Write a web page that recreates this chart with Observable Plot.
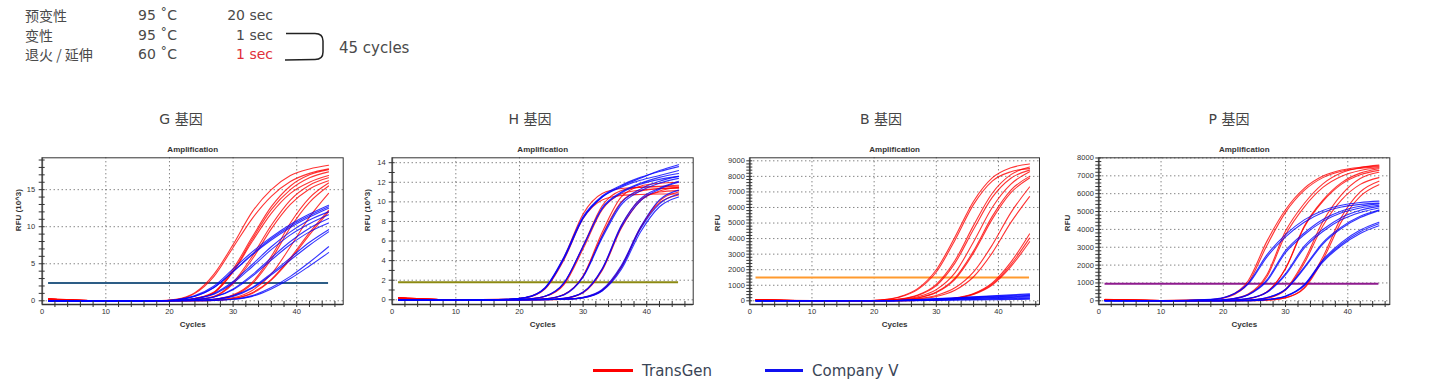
<!DOCTYPE html>
<html><head><meta charset="utf-8">
<script src="https://cdn.jsdelivr.net/npm/d3@7"></script>
<script src="https://cdn.jsdelivr.net/npm/@observablehq/plot@0.6"></script>
<style>
html,body{margin:0;padding:0;background:#fff;}
body{width:1429px;height:388px;position:relative;overflow:hidden;font-family:"DejaVu Sans","Noto Sans CJK SC",sans-serif;}
.t{position:absolute;white-space:nowrap;color:#4a4a4a;font-size:14px;line-height:16px;}
.cjk{font-family:"Noto Sans CJK SC",sans-serif;}
.r{text-align:right;}
.ptitle{position:absolute;top:109px;font-size:14px;line-height:18px;color:#444;transform:translateX(-50%);white-space:nowrap;font-family:"DejaVu Sans","Noto Sans CJK SC",sans-serif;}
.panel{position:absolute;top:135px;}
.lg{position:absolute;top:363px;font-size:15px;line-height:16px;color:#3a4556;white-space:nowrap;}
.sw{position:absolute;top:369px;height:3px;}
</style></head><body>

<div class="t cjk" style="left:25px;top:7px;">预变性</div>
<div class="t" style="left:138px;top:7px;">95 ˚C</div>
<div class="t r" style="left:200px;width:73px;top:7px;">20 sec</div>
<div class="t cjk" style="left:25px;top:27px;">变性</div>
<div class="t" style="left:138px;top:27px;">95 ˚C</div>
<div class="t r" style="left:200px;width:73px;top:27px;">1 sec</div>
<div class="t cjk" style="left:25px;top:46px;">退火 / 延伸</div>
<div class="t" style="left:138px;top:46px;">60 ˚C</div>
<div class="t r" style="left:200px;width:73px;top:46px;color:#e0303a;">1 sec</div>
<svg style="position:absolute;left:0;top:0" width="420" height="70">
  <path d="M286,33.5 L315,33.5 Q323,33.5 323,41 L323,52 Q323,59.5 315,59.5 L285,60" fill="none" stroke="#222" stroke-width="1.5"/>
</svg>
<div class="t" style="left:339px;top:40px;font-size:15px;">45 cycles</div>

<div class="ptitle" style="left:181px;">G <span class="cjk">基因</span></div>
<div class="ptitle" style="left:530px;">H <span class="cjk">基因</span></div>
<div class="ptitle" style="left:881px;">B <span class="cjk">基因</span></div>
<div class="ptitle" style="left:1229px;">P <span class="cjk">基因</span></div>

<div id="pG" class="panel" style="left:5px;"></div>
<div id="pH" class="panel" style="left:355px;"></div>
<div id="pB" class="panel" style="left:705px;"></div>
<div id="pP" class="panel" style="left:1055px;"></div>

<div class="sw" style="left:593px;width:40px;background:#ff0000;"></div>
<div class="lg" style="left:642px;">TransGen</div>
<div class="sw" style="left:765px;width:38px;background:#1010f0;"></div>
<div class="lg" style="left:812px;">Company V</div>

<script>
// ---------- shared axes ----------
const cycles = [1, 10, 18, 21, 24, 27, 30, 33, 36, 39, 42, 45];
const xTickLabels = [0, 10, 20, 30, 40];
const xGrid = [10, 20, 30, 40];
const xMinorTicks = [2,4,6,8,10,12,14,16,18,20,22,24,26,28,30,32,34,36,38,40,42,44,46];

// ---------- G gene (RFU x10^3) ----------
const gYTicks = [0, 5, 10, 15];
const gThreshold = 2.4;
const gRed = [
  [0.25, 0.02, 0.0, 0.2, 1.1, 3.6, 7.6, 12.0, 15.0, 16.9, 17.8, 18.3],
  [0.3, 0.0, 0.0, 0.15, 1.0, 3.3, 7.2, 11.1, 14.1, 16.1, 17.2, 17.8],
  [0.2, 0.0, 0.0, 0.05, 0.35, 1.2, 4.3, 8.6, 12.7, 15.5, 17.0, 17.7],
  [0.2, 0.0, 0.0, 0.05, 0.3, 1.1, 4.0, 8.3, 12.3, 15.0, 16.6, 17.4],
  [0.25, 0.0, 0.0, 0.05, 0.3, 1.1, 3.9, 8.0, 11.8, 14.5, 16.0, 16.9],
  [0.2, 0.0, 0.0, 0.0, 0.15, 0.6, 2.5, 6.0, 10.2, 13.6, 15.6, 16.6],
  [0.2, 0.0, 0.0, 0.0, 0.15, 0.55, 2.3, 5.6, 9.7, 13.0, 15.1, 16.2],
  [0.2, 0.0, 0.0, 0.0, 0.05, 0.2, 0.8, 2.5, 6.0, 10.5, 13.9, 15.9],
  [0.15, 0.0, 0.0, 0.0, 0.05, 0.2, 0.7, 2.3, 5.6, 9.9, 13.3, 15.5],
  [0.2, 0.0, 0.0, 0.0, 0.0, 0.1, 0.4, 1.4, 3.6, 7.3, 11.3, 14.5],
  [0.15, 0.0, 0.0, 0.0, 0.0, 0.05, 0.3, 1.1, 2.9, 5.8, 9.2, 12.2],
  [0.2, 0.0, 0.0, 0.0, 0.0, 0.05, 0.3, 1.0, 2.8, 5.6, 8.9, 12.0]
];
const gBlue = [
  [0.0, -0.05, 0.0, 0.15, 0.7, 2.0, 4.3, 6.6, 8.6, 10.3, 11.7, 12.9],
  [-0.05, -0.05, 0.0, 0.1, 0.6, 1.8, 4.0, 6.3, 8.4, 10.1, 11.5, 12.7],
  [0.0, -0.05, 0.0, 0.1, 0.6, 1.8, 3.9, 6.2, 8.2, 9.9, 11.3, 12.5],
  [0.0, -0.05, 0.0, 0.05, 0.3, 1.0, 2.6, 4.9, 7.3, 9.3, 10.9, 12.0],
  [-0.05, -0.05, 0.0, 0.05, 0.3, 0.9, 2.4, 4.6, 6.9, 8.9, 10.4, 11.6],
  [0.0, -0.05, 0.0, 0.0, 0.15, 0.5, 1.6, 3.5, 5.8, 8.0, 9.8, 11.1],
  [0.0, -0.05, 0.0, 0.0, 0.15, 0.5, 1.5, 3.3, 5.5, 7.6, 9.3, 10.5],
  [0.0, -0.05, 0.0, 0.0, 0.05, 0.2, 0.7, 1.8, 3.7, 5.8, 7.9, 9.6],
  [-0.05, -0.05, 0.0, 0.0, 0.05, 0.2, 0.6, 1.7, 3.5, 5.5, 7.5, 9.3],
  [0.0, -0.05, 0.0, 0.0, 0.0, 0.05, 0.2, 0.7, 1.8, 3.3, 5.2, 7.3],
  [0.0, -0.05, 0.0, 0.0, 0.0, 0.05, 0.2, 0.6, 1.6, 3.0, 4.7, 6.5]
];

// ---------- H gene (RFU x10^3) ----------
const hYTicks = [0, 2, 4, 6, 8, 10, 12, 14];
const hThreshold = 1.8;
const hRed = [
  [0.2, 0.0, 0.05, 0.24, 1.18, 4.34, 8.77, 10.86, 11.37, 11.48, 11.55, 11.6],
  [0.15, 0.0, 0.05, 0.22, 1.1, 4.1, 8.3, 10.2, 10.65, 10.75, 10.8, 10.8],
  [0.2, 0.0, 0.0, 0.07, 0.36, 1.68, 5.5, 9.6, 11.15, 11.5, 11.6, 11.7],
  [0.15, 0.0, 0.0, 0.06, 0.33, 1.55, 5.2, 9.2, 10.8, 11.2, 11.35, 11.4],
  [0.2, 0.0, 0.0, 0.02, 0.1, 0.54, 2.38, 6.6, 10.0, 11.1, 11.35, 11.45],
  [0.15, 0.0, 0.0, 0.02, 0.1, 0.55, 2.45, 6.9, 10.5, 11.6, 11.9, 12.0],
  [0.2, 0.0, 0.0, 0.0, 0.03, 0.15, 0.77, 3.14, 7.54, 10.26, 11.0, 11.15],
  [0.15, 0.0, 0.0, 0.0, 0.03, 0.14, 0.72, 3.0, 7.3, 10.1, 11.1, 11.5],
  [0.2, 0.0, 0.0, 0.0, 0.0, 0.06, 0.24, 1.0, 3.4, 7.35, 9.9, 10.7],
  [0.15, 0.0, 0.0, 0.0, 0.0, 0.05, 0.22, 0.95, 3.3, 7.3, 10.1, 11.0]
];
const hBlue = [
  [-0.05, -0.05, 0.05, 0.25, 1.25, 4.4, 8.5, 10.6, 11.7, 12.5, 13.1, 13.6],
  [-0.05, -0.05, 0.05, 0.24, 1.2, 4.3, 8.4, 10.5, 11.6, 12.4, 13.2, 13.8],
  [0.0, -0.05, 0.05, 0.22, 1.15, 4.2, 8.3, 10.5, 11.5, 12.2, 12.7, 13.2],
  [-0.05, -0.05, 0.0, 0.07, 0.37, 1.75, 5.5, 9.4, 11.0, 11.9, 12.5, 12.9],
  [0.0, -0.05, 0.0, 0.07, 0.36, 1.7, 5.4, 9.3, 10.9, 11.8, 12.3, 12.6],
  [-0.05, -0.05, 0.0, 0.02, 0.1, 0.55, 2.4, 6.5, 9.9, 11.3, 12.1, 12.6],
  [0.0, -0.05, 0.0, 0.02, 0.1, 0.5, 2.3, 6.3, 9.7, 11.1, 11.9, 12.4],
  [-0.05, -0.05, 0.0, 0.0, 0.03, 0.16, 0.8, 3.2, 7.6, 10.3, 11.4, 12.1],
  [0.0, -0.05, 0.0, 0.0, 0.03, 0.15, 0.75, 3.1, 7.4, 10.1, 11.3, 12.0],
  [-0.05, -0.05, 0.0, 0.0, 0.0, 0.05, 0.22, 0.95, 3.3, 7.2, 9.8, 10.8],
  [0.0, -0.05, 0.0, 0.0, 0.0, 0.05, 0.2, 0.9, 3.1, 6.9, 9.5, 10.5],
  [0.0, -0.05, 0.0, 0.0, 0.0, 0.05, 0.25, 1.05, 3.5, 7.4, 10.2, 11.2]
];

// ---------- B gene (RFU) ----------
const bYTicks = [0, 1000, 2000, 3000, 4000, 5000, 6000, 7000, 8000, 9000];
const bThreshold = 1500;
const bRed = [
  [80, 10, 0, 60, 250, 780, 2000, 4100, 6400, 7900, 8550, 8800],
  [60, 10, 0, 55, 230, 720, 1850, 3900, 6200, 7700, 8300, 8500],
  [70, 5, 0, 20, 110, 370, 1060, 2590, 4850, 6915, 8110, 8600],
  [60, 5, 0, 20, 100, 340, 980, 2420, 4600, 6650, 7880, 8400],
  [60, 5, 0, 25, 90, 260, 720, 1800, 3800, 6000, 7500, 8300],
  [60, 5, 0, 20, 70, 200, 565, 1460, 3210, 5430, 7120, 8000],
  [50, 5, 0, 20, 65, 185, 530, 1380, 3080, 5250, 6950, 7900],
  [60, 5, 0, 10, 40, 138, 347, 835, 1860, 3590, 5670, 7317],
  [50, 5, 0, 10, 35, 113, 281, 682, 1547, 3085, 5040, 6700],
  [60, 5, 0, 0, 10, 30, 67, 181, 473, 1157, 2490, 4300],
  [50, 5, 0, 0, 10, 25, 60, 165, 440, 1080, 2330, 4030],
  [50, 5, 0, 0, 10, 25, 55, 155, 415, 1020, 2200, 3800]
];
const bBlue = [
  [20, 10, 0, 0, 30, 80, 140, 200, 260, 320, 385, 450],
  [10, 5, 0, 0, 25, 70, 125, 180, 235, 290, 345, 400],
  [0, 0, 0, 0, 20, 60, 110, 155, 205, 255, 300, 350],
  [-20, 0, 0, 0, 20, 50, 95, 135, 175, 215, 260, 300],
  [10, 0, 0, 0, 15, 40, 75, 110, 145, 180, 215, 250],
  [-10, 0, 0, 0, 10, 30, 60, 90, 115, 145, 170, 200],
  [0, -10, 0, 0, 10, 25, 45, 65, 85, 105, 130, 150],
  [-30, -10, 0, 0, 5, 15, 30, 45, 60, 70, 85, 100]
];

// ---------- P gene (RFU) ----------
const pYTicks = [0, 1000, 2000, 3000, 4000, 5000, 6000, 7000, 8000];
const pThreshold = 950;
const pRed = [
  [60, 20, 65, 283, 1125, 3329, 5100, 6293, 6984, 7326, 7478, 7547],
  [80, 10, 50, 240, 990, 3100, 4950, 6180, 6900, 7260, 7420, 7500],
  [60, 20, 20, 88, 383, 1463, 3904, 5452, 6553, 7169, 7461, 7600],
  [50, 10, 15, 75, 340, 1350, 3700, 5250, 6350, 6980, 7300, 7450],
  [60, 10, 0, 26, 118, 502, 1824, 4180, 5639, 6620, 7152, 7400],
  [50, 10, 0, 26, 116, 495, 1800, 4125, 5565, 6533, 7058, 7305],
  [60, 10, 0, 0, 35, 156, 653, 2246, 4440, 5950, 6850, 7200],
  [50, 10, 0, 0, 30, 140, 600, 2100, 4200, 5650, 6520, 6900],
  [60, 10, 0, 0, 0, 41, 178, 738, 2457, 4700, 6100, 6700],
  [50, 10, 0, 0, 0, 38, 165, 690, 2300, 4450, 5850, 6500]
];
const pBlue = [
  [20, 0, 78, 292, 994, 2571, 3712, 4531, 5062, 5356, 5509, 5582],
  [0, 0, 70, 270, 930, 2450, 3580, 4400, 4950, 5250, 5400, 5470],
  [20, 0, 25, 95, 355, 1171, 2808, 3796, 4557, 5034, 5295, 5428],
  [0, 0, 22, 88, 330, 1100, 2700, 3700, 4450, 4930, 5200, 5350],
  [10, 0, 0, 35, 135, 492, 1529, 3058, 3993, 4670, 5071, 5291],
  [0, 0, 0, 32, 125, 460, 1450, 2950, 3880, 4550, 4950, 5200],
  [10, 0, 0, 0, 48, 183, 649, 1886, 3265, 4142, 4742, 5090],
  [0, 0, 0, 0, 45, 175, 620, 1820, 3180, 4060, 4660, 5050],
  [10, 0, 0, 0, 0, 69, 259, 874, 2237, 3182, 3869, 4310],
  [0, 0, 0, 0, 0, 72, 270, 910, 2300, 3270, 3960, 4400],
  [0, 0, 0, 0, 0, 65, 245, 840, 2170, 3100, 3770, 4200]
];

// ---------- build ----------
function rows(curves, tag) {
  const out = [];
  curves.forEach((arr, i) => arr.forEach((v, j) => out.push({c: cycles[j], v, id: tag + i})));
  return out;
}

function panel(el, cfg) {
  const y0 = cfg.yDomain[0];
  const chart = Plot.plot({
    width: cfg.width, height: 200,
    marginLeft: cfg.ml, marginRight: cfg.mr, marginTop: 22.3, marginBottom: 31,
    x: {domain: [0, cfg.xMax], axis: null},
    y: {domain: cfg.yDomain, axis: null},
    style: {fontFamily: "Liberation Sans, Arial, sans-serif", fontSize: "7.5px", background: "transparent", overflow: "visible"},
    marks: [
      Plot.gridX(xGrid, {stroke: "#333", strokeOpacity: 0.85, strokeDasharray: "1,3", strokeWidth: 1}),
      Plot.gridY(cfg.yTicks, {stroke: "#333", strokeOpacity: 0.85, strokeDasharray: "1,3", strokeWidth: 1}),
      Plot.ruleY([cfg.threshold], {x1: 1, x2: 45, stroke: cfg.thColor, strokeWidth: 2}),
      Plot.line(rows(cfg.red, "r"), {x: "c", y: "v", z: "id", stroke: "#ff0000", strokeOpacity: 0.8, strokeWidth: 1.1, curve: "monotone-x"}),
      Plot.line(rows(cfg.blue, "b"), {x: "c", y: "v", z: "id", stroke: "#0000ff", strokeOpacity: 0.8, strokeWidth: 1.1, curve: "monotone-x"}),
      Plot.ruleX([0], {stroke: "#999", strokeWidth: 2}),
      Plot.ruleY([y0], {stroke: "#999", strokeWidth: 2}),
      Plot.frame({stroke: "#333", strokeWidth: 1}),
      Plot.ruleX(xMinorTicks, {x: d => d, y1: y0, y2: y0, insetTop: -3, insetBottom: -3, stroke: "#333"}),
      Plot.ruleY(cfg.yMinor, {y: d => d, x1: 0, x2: 0, insetLeft: -3, insetRight: -3, stroke: "#333"}),
      Plot.text(xTickLabels, {x: d => d, frameAnchor: "bottom", dy: 9.5, text: d => String(d), fill: "#333"}),
      Plot.text(cfg.yTicks, {y: d => d, frameAnchor: "left", dx: cfg.tickDx, textAnchor: "end", text: d => String(d), fill: "#333"}),
      Plot.text(["Amplification"], {frameAnchor: "top", dy: -11, fontWeight: "bold", fontSize: 8, fill: "#333"}),
      Plot.text(["Cycles"], {frameAnchor: "bottom", dy: 22, fontWeight: "bold", fontSize: 8, fill: "#333"}),
      Plot.text([cfg.yLabel], {frameAnchor: "left", dx: cfg.labelDx, rotate: -90, fontWeight: "bold", fontSize: 8, fill: "#333"})
    ]
  });
  document.getElementById(el).appendChild(chart);
}

const range = (a, b, s) => d3.range(a, b + s / 2, s);

panel("pG", {width: 345, ml: 36.7, mr: 7.3, xMax: 47.3, yDomain: [-0.5, 19.3],
  yTicks: gYTicks, yMinor: range(0, 19, 1), threshold: gThreshold, thColor: "#2d5d86",
  red: gRed, blue: gBlue, yLabel: "RFU (10^3)", labelDx: -23.5, tickDx: -7});
panel("pH", {width: 345, ml: 36.7, mr: 7.3, xMax: 47.3, yDomain: [-0.48, 14.5],
  yTicks: hYTicks, yMinor: range(0, 14, 1), threshold: hThreshold, thColor: "#8c8a12",
  red: hRed, blue: hBlue, yLabel: "RFU (10^3)", labelDx: -24.4, tickDx: -6.5});
panel("pB", {width: 340, ml: 44.3, mr: 6, xMax: 46.6, yDomain: [-237, 9194],
  yTicks: bYTicks, yMinor: range(0, 9000, 200), threshold: bThreshold, thColor: "#ff9a2e",
  red: bRed, blue: bBlue, yLabel: "RFU", labelDx: -32, tickDx: -5});
panel("pP", {width: 340, ml: 43.3, mr: 5.7, xMax: 46.75, yDomain: [-207, 8010],
  yTicks: pYTicks, yMinor: range(0, 8000, 200), threshold: pThreshold, thColor: "#8e1a8e",
  red: pRed, blue: pBlue, yLabel: "RFU", labelDx: -31.3, tickDx: -5});
</script>
</body></html>
